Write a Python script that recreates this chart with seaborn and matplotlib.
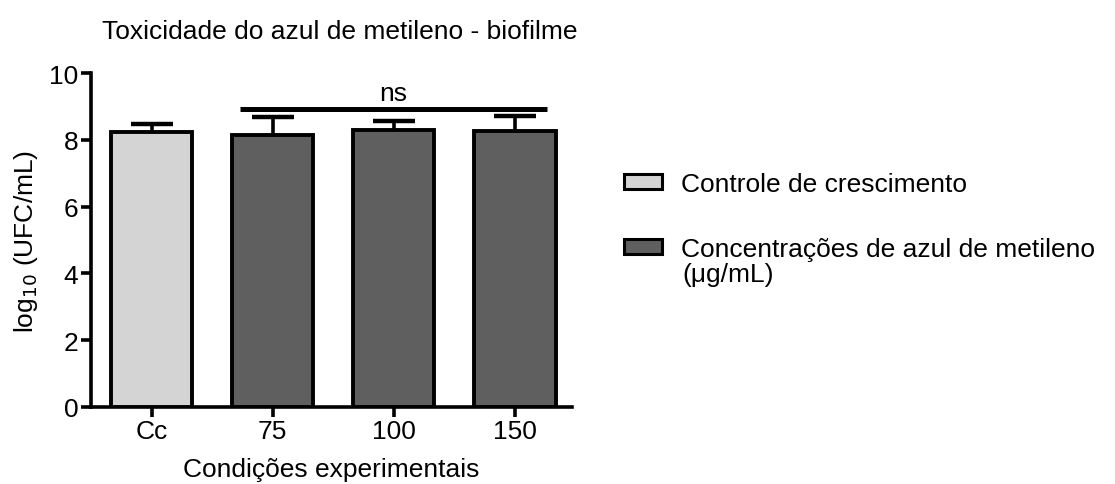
import numpy as np
import pandas as pd
import matplotlib
matplotlib.use("Agg")
import matplotlib.pyplot as plt
import seaborn as sns
from matplotlib.patches import Patch

# Bacterial counts in biofilm after methylene blue exposure
conditions = ["Cc", "75", "100", "150"]
groups = ["Controle de crescimento", "Concentrações de azul de metileno",
          "Concentrações de azul de metileno", "Concentrações de azul de metileno"]
means = [8.24, 8.14, 8.29, 8.27]
sem = [0.23, 0.55, 0.28, 0.44]
unit_note = "(μg/mL)"

group_colors = {
    "Controle de crescimento": "#d4d4d4",
    "Concentrações de azul de metileno": "#5f5f5f",
}

sns.set_theme(style="ticks")
plt.rcParams["font.family"] = ["Liberation Sans", "DejaVu Sans"]
plt.rcParams["text.color"] = "black"
plt.rcParams["axes.labelcolor"] = "black"
plt.rcParams["axes.edgecolor"] = "black"

FS = 19

df = pd.DataFrame({"condicao": conditions, "grupo": groups, "log": means})

fig = plt.figure(figsize=(11.15, 4.85), dpi=100)
ax = fig.add_axes([0.0816, 0.159, 0.4314, 0.688])

sns.barplot(data=df, x="condicao", y="log", hue="grupo", palette=group_colors,
            dodge=False, width=0.67, edgecolor="black", linewidth=2.8,
            errorbar=None, legend=False, ax=ax, zorder=3)

# upward-only error bars (lower caps hidden)
xpos = np.arange(len(conditions))
_, caps, _ = ax.errorbar(xpos, means, yerr=[np.zeros(len(sem)), sem], fmt="none",
                         ecolor="black", elinewidth=2.6, capsize=15, capthick=3.2,
                         zorder=2)
caps[0].set_visible(False)

# significance bracket over treatment bars
ax.plot([0.73, 3.26], [8.94, 8.94], color="black", lw=3.6, solid_capstyle="butt",
        clip_on=False, zorder=4)
ax.text((0.73 + 3.26) / 2, 9.40, "ns", ha="center", va="center", fontsize=FS)

ax.set_xlim(-0.5, 3.47)
ax.set_ylim(0, 10)
ax.set_yticks([0, 2, 4, 6, 8, 10])
sns.despine(ax=ax)
for s in ["left", "bottom"]:
    ax.spines[s].set_linewidth(2.6)
    ax.spines[s].set_color("black")
ax.tick_params(axis="both", direction="out", length=7, width=2.6, labelsize=FS,
               color="black", labelcolor="black", pad=2)

ax.set_xlabel("Condições experimentais", fontsize=FS, labelpad=10)
ax.set_ylabel(r"log$_{10}$ (UFC/mL)", fontsize=FS, labelpad=7)
fig.text(102 / 1115, 1 - 32 / 485, "Toxicidade do azul de metileno - biofilme",
         fontsize=FS, ha="left", va="center")

handles = [Patch(facecolor=c, edgecolor="black", linewidth=2.2) for c in group_colors.values()]
fig.legend(handles, list(group_colors.keys()), loc="upper left",
           bbox_to_anchor=(0.538, 0.693), frameon=False, fontsize=FS,
           handlelength=1.45, handleheight=0.5, handletextpad=0.72, labelspacing=1.58)
fig.text(682 / 1115, 1 - 275 / 485, unit_note, fontsize=FS, ha="left", va="center")

fig.savefig("out.png", dpi=100)
